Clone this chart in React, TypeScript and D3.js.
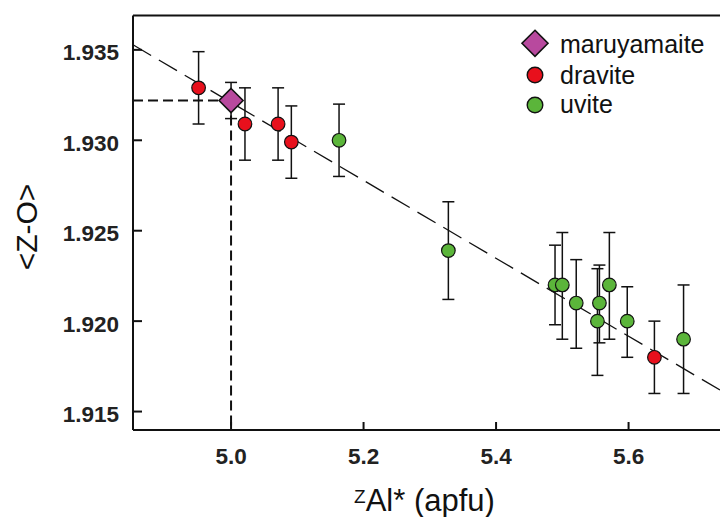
import React from "react";
import * as d3 from "d3";

// ---- data ----
const draviteX = [4.951, 5.021, 5.071, 5.091, 5.639];
const draviteY = [1.9329, 1.9309, 1.9309, 1.9299, 1.9180];
const draviteErr = [0.002, 0.002, 0.002, 0.002, 0.002];

const uviteX = [5.163, 5.328, 5.489, 5.500, 5.521, 5.553, 5.556, 5.571, 5.598, 5.683];
const uviteY = [1.930, 1.9239, 1.922, 1.922, 1.921, 1.920, 1.921, 1.922, 1.920, 1.919];
const uviteErrHi = [0.002, 0.0027, 0.0022, 0.0029, 0.0024, 0.0029, 0.0021, 0.0029, 0.0019, 0.003];
const uviteErrLo = [0.002, 0.0027, 0.0022, 0.003, 0.0025, 0.0030, 0.0022, 0.0030, 0.002, 0.003];

const maruX = [5.0];
const maruY = [1.9322];
const maruErr = [0.001];

const fitX = [4.852, 5.738];
const fitY = [1.93528, 1.91619];

const xTicks = [5.0, 5.2, 5.4, 5.6];
const yTicks = [1.915, 1.92, 1.925, 1.93, 1.935];

const legendLabels = ["maruyamaite", "dravite", "uvite"];

const RED = "#e8101c";
const GREEN = "#5bb53a";
const PURPLE = "#b8499e";
const FONT = "'Liberation Sans', Arial, Helvetica, sans-serif";

export default function App() {
  const W = 720, H = 517;
  const left = 133, right = 720, top = 15.5, bottom = 430;
  const x = d3.scaleLinear().domain([4.852, 5.738]).range([left, right]);
  const y = d3.scaleLinear().domain([1.91398, 1.9369]).range([bottom, top]);

  const fitLine = d3.line<number>().x((_, i) => x(fitX[i])).y((v) => y(v))(fitY) || "";

  const cap = 6;
  const errBar = (xv: number, lo: number, hi: number, key: string) => {
    const px = x(xv);
    return (
      <g key={key} stroke="#111" strokeWidth={1.5}>
        <line x1={px} x2={px} y1={y(lo)} y2={y(hi)} />
        <line x1={px - cap} x2={px + cap} y1={y(lo)} y2={y(lo)} />
        <line x1={px - cap} x2={px + cap} y1={y(hi)} y2={y(hi)} />
      </g>
    );
  };

  const diamond = (cx: number, cy: number, r: number, key?: string) => (
    <path
      key={key}
      d={`M${cx},${cy - r}L${cx + r},${cy}L${cx},${cy + r}L${cx - r},${cy}Z`}
      fill={PURPLE}
      stroke="#111"
      strokeWidth={1.6}
    />
  );

  return (
    <svg width={W} height={H} style={{ position: "absolute", left: 0, top: 0, background: "#fff" }} fontFamily={FONT}>
      <rect x={0} y={0} width={W} height={H} fill="#fff" />

      {/* regression line */}
      <path d={fitLine} fill="none" stroke="#111" strokeWidth={1.3} strokeDasharray="21 9" />

      {/* maruyamaite guide lines */}
      <line x1={left} x2={x(maruX[0])} y1={y(maruY[0])} y2={y(maruY[0])} stroke="#111" strokeWidth={2} strokeDasharray="10 5" />
      <line x1={x(maruX[0])} x2={x(maruX[0])} y1={y(maruY[0])} y2={bottom} stroke="#111" strokeWidth={2} strokeDasharray="10 5" />

      {/* error bars */}
      {draviteX.map((xv, i) => errBar(xv, draviteY[i] - draviteErr[i], draviteY[i] + draviteErr[i], "de" + i))}
      {uviteX.map((xv, i) => errBar(xv, uviteY[i] - uviteErrLo[i], uviteY[i] + uviteErrHi[i], "ue" + i))}
      {maruX.map((xv, i) => errBar(xv, maruY[i] - maruErr[i], maruY[i] + maruErr[i], "me" + i))}

      {/* points */}
      {draviteX.map((xv, i) => (
        <circle key={"d" + i} cx={x(xv)} cy={y(draviteY[i])} r={6.8} fill={RED} stroke="#111" strokeWidth={1.2} />
      ))}
      {uviteX.map((xv, i) => (
        <circle key={"u" + i} cx={x(xv)} cy={y(uviteY[i])} r={6.8} fill={GREEN} stroke="#111" strokeWidth={1.2} />
      ))}
      {maruX.map((xv, i) => diamond(x(xv), y(maruY[i]), 12, "m" + i))}

      {/* axes frame */}
      <line x1={left} x2={left} y1={top} y2={bottom} stroke="#111" strokeWidth={2} />
      <line x1={left} x2={right} y1={bottom} y2={bottom} stroke="#111" strokeWidth={2} />
      <line x1={left} x2={right} y1={top} y2={top} stroke="#111" strokeWidth={2} />

      {/* y ticks */}
      {yTicks.map((t) => (
        <g key={"yt" + t}>
          <line x1={left} x2={left + 9} y1={y(t)} y2={y(t)} stroke="#111" strokeWidth={2} />
          <text x={119} y={y(t) + 10.5} textAnchor="end" fontSize={22.5} fontWeight="bold" fill="#222">
            {t.toFixed(3)}
          </text>
        </g>
      ))}
      {/* x ticks */}
      {xTicks.map((t) => (
        <g key={"xt" + t}>
          <line x1={x(t)} x2={x(t)} y1={bottom} y2={bottom - 8} stroke="#111" strokeWidth={2} />
          <text x={x(t)} y={463.5} textAnchor="middle" fontSize={22.5} fontWeight="bold" fill="#222">
            {t.toFixed(1)}
          </text>
        </g>
      ))}

      {/* axis titles */}
      <text transform="translate(36.5,227) rotate(-90)" textAnchor="middle" fontSize={30} fill="#111">
        {"<Z-O>"}
      </text>
      <text x={424.5} y={511} textAnchor="middle" fontSize={31} fill="#111">
        <tspan fontSize={19} dy={-8}>Z</tspan>
        <tspan dy={8}>Al* (apfu)</tspan>
      </text>

      {/* legend */}
      {diamond(535, 43.3, 13)}
      <circle cx={535} cy={75} r={7.8} fill={RED} stroke="#111" strokeWidth={1.4} />
      <circle cx={535} cy={105} r={7.8} fill={GREEN} stroke="#111" strokeWidth={1.4} />
      {legendLabels.map((l, i) => (
        <text key={l} x={560} y={[53.3, 84.3, 113.3][i]} fontSize={25} fill="#111">
          {l}
        </text>
      ))}
    </svg>
  );
}
